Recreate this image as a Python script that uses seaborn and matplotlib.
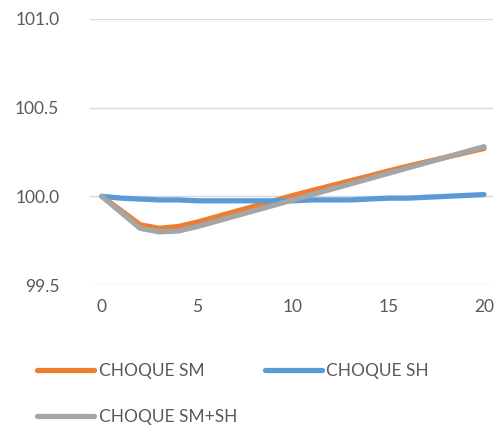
import pandas as pd
import seaborn as sns
import matplotlib.pyplot as plt

# data
periods = list(range(21))
choque_sm = [100.00, 99.92, 99.84, 99.82, 99.83, 99.855, 99.885, 99.915, 99.945, 99.975, 100.005,
             100.033, 100.06, 100.088, 100.115, 100.143, 100.17, 100.195, 100.22, 100.245, 100.27]
choque_sh = [100.00, 99.99, 99.985, 99.98, 99.98, 99.975, 99.975, 99.975, 99.975, 99.975, 99.975,
             99.98, 99.98, 99.98, 99.985, 99.99, 99.99, 99.995, 100.0, 100.005, 100.01]
choque_sm_sh = [100.00, 99.91, 99.82, 99.80, 99.805, 99.83, 99.86, 99.89, 99.92, 99.95, 99.98,
                100.01, 100.04, 100.07, 100.10, 100.13, 100.16, 100.19, 100.22, 100.25, 100.28]
series_names = ['CHOQUE SM', 'CHOQUE SH', 'CHOQUE SM+SH']
y_ticks = [99.5, 100.0, 100.5, 101.0]
x_ticks = [0, 5, 10, 15, 20]

df = pd.DataFrame({'t': periods * 3,
                   'value': choque_sm + choque_sh + choque_sm_sh,
                   'serie': [series_names[0]] * 21 + [series_names[1]] * 21 + [series_names[2]] * 21})

sns.set_style('white')
plt.rcParams['font.family'] = ['Lato', 'DejaVu Sans']

fig = plt.figure(figsize=(5.02, 4.30), dpi=100)
ax = fig.add_axes([0.179, 0.337, 0.803, 0.619])

palette = {'CHOQUE SM': '#ED7D31', 'CHOQUE SH': '#5B9BD5', 'CHOQUE SM+SH': '#A5A5A5'}
sns.lineplot(data=df, x='t', y='value', hue='serie', palette=palette, linewidth=3.8,
             ax=ax, solid_capstyle='round', legend=False)

ax.set_xlim(-0.63, 20.47)
ax.set_ylim(99.5, 101.0)
ax.set_yticks(y_ticks)
ax.set_yticklabels([f'{v:.1f}' for v in y_ticks])
ax.set_xticks(x_ticks)
ax.grid(axis='y', color='#d9d9d9', linewidth=1)
ax.set_axisbelow(True)
for s in ax.spines.values():
    s.set_visible(False)
ax.tick_params(axis='both', length=0, labelsize=12.5, colors='#595959')
ax.tick_params(axis='y', pad=22)
ax.tick_params(axis='x', pad=10)
ax.set_xlabel('')
ax.set_ylabel('')

# legend below, two columns filled row by row like Excel
legend_order = ['CHOQUE SM', 'CHOQUE SM+SH', 'CHOQUE SH']
handles = [plt.Line2D([], [], color=palette[n], linewidth=3.8, solid_capstyle='round') for n in legend_order]
fig.legend(handles, legend_order, loc='upper left', bbox_to_anchor=(0.06, 0.172), ncol=2,
           frameon=False, fontsize=12.5, labelcolor='#595959', handlelength=3.3, handletextpad=0.25,
           columnspacing=1.6, labelspacing=1.75, borderaxespad=0)

fig.savefig('out.png', dpi=100)
